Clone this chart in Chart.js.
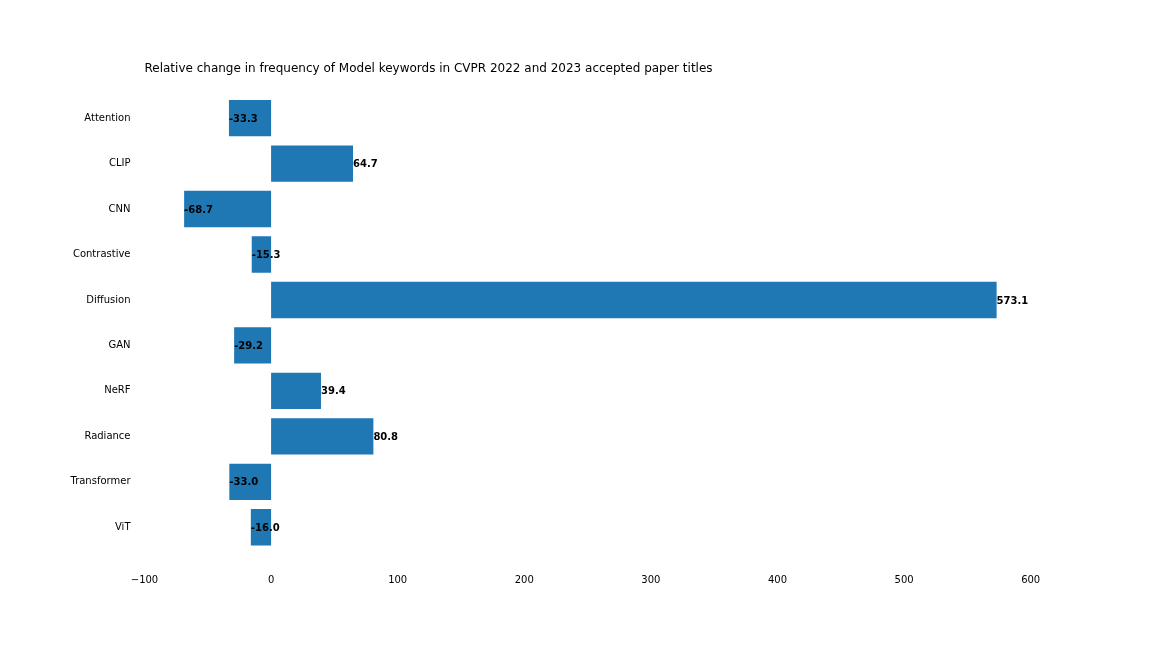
<!DOCTYPE html>
<html>
<head>
<meta charset="utf-8">
<script src="https://cdn.jsdelivr.net/npm/chart.js@4/dist/chart.umd.min.js"></script>
<style>
  html, body { margin: 0; padding: 0; background: #fff; }
  #wrap { width: 1152px; height: 648px; position: relative; }
</style>
</head>
<body>
<div id="wrap"><canvas id="c" width="1152" height="648"></canvas></div>
<script>
const categories = ["Attention", "CLIP", "CNN", "Contrastive", "Diffusion", "GAN", "NeRF", "Radiance", "Transformer", "ViT"];
const changes = [-33.3, 64.7, -68.7, -15.3, 573.1, -29.2, 39.4, 80.8, -33.0, -16.0];
const xTicks = [-100, 0, 100, 200, 300, 400, 500, 600];
const titleText = "Relative change in frequency of Model keywords in CVPR 2022 and 2023 accepted paper titles";

const FONT = "'DejaVu Sans', sans-serif";

const valueLabels = {
  id: 'valueLabels',
  afterDatasetsDraw(chart) {
    const ctx = chart.ctx;
    const xs = chart.scales.x;
    const ys = chart.scales.y;
    ctx.save();
    ctx.font = "bold 10px " + FONT;
    ctx.fillStyle = '#000';
    ctx.textAlign = 'left';
    ctx.textBaseline = 'middle';
    changes.forEach((v, i) => {
      const x = xs.getPixelForValue(v);
      const y = ys.getPixelForValue(i);
      ctx.fillText(v.toFixed(1), x, y + 1);
    });
    ctx.restore();
  }
};

new Chart(document.getElementById('c'), {
  type: 'bar',
  data: {
    labels: categories,
    datasets: [{
      data: changes,
      backgroundColor: '#1f77b4',
      borderWidth: 0,
      barPercentage: 0.8,
      categoryPercentage: 1.0
    }]
  },
  options: {
    indexAxis: 'y',
    responsive: false,
    animation: false,
    devicePixelRatio: 1,
    layout: { padding: { left: 0, right: 115, top: 0, bottom: 38 } },
    plugins: {
      legend: { display: false },
      tooltip: { enabled: false },
      title: {
        display: true,
        text: titleText,
        align: 'start',
        fullSize: false,
        color: '#000',
        font: { family: FONT, size: 12, weight: 'normal' },
        padding: { top: 62, bottom: 19 }
      }
    },
    scales: {
      x: {
        type: 'linear',
        min: -100,
        max: 605,
        grid: { display: false, drawTicks: false, tickLength: 0 },
        border: { display: false },
        afterBuildTicks(scale) { scale.ticks = xTicks.map(v => ({ value: v })); },
        ticks: {
          padding: 24,
          color: '#000',
          font: { family: FONT, size: 10 },
          maxRotation: 0,
          callback: (v) => v < 0 ? '\u2212' + Math.abs(v) : String(v)
        }
      },
      y: {
        type: 'category',
        offset: true,
        grid: { display: false, drawTicks: false, tickLength: 0 },
        border: { display: false },
        afterFit(scale) { scale.width = 144.5; },
        ticks: {
          padding: 14,
          color: '#000',
          font: { family: FONT, size: 10 }
        }
      }
    }
  },
  plugins: [valueLabels]
});
</script>
</body>
</html>
